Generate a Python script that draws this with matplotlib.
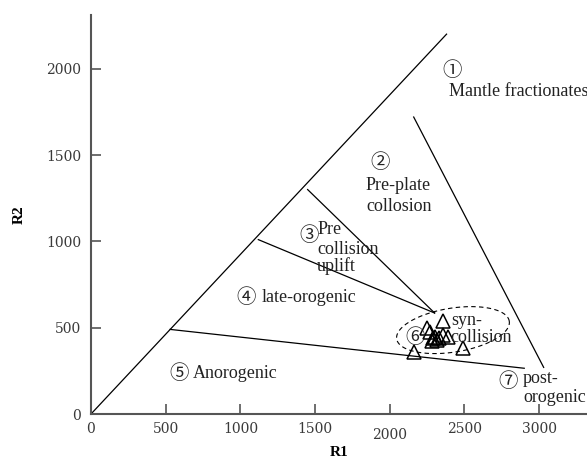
import numpy as np
import matplotlib
matplotlib.use('Agg')
import matplotlib.pyplot as plt

# R1-R2 diagram: boundary lines (R1, R2 endpoints)
diag_line = [(0, 0), (2380, 2200)]
line_anorogenic = [(530, 490), (2900, 265)]
line_mantle = [(2160, 1720), (3030, 270)]
line_preplate = [(1450, 1300), (2300, 585)]
line_lateorog = [(1120, 1010), (2300, 585)]

# samples (triangles)
r1 = [2358, 2247, 2269, 2302, 2314, 2332, 2392, 2492, 2162, 2291, 2358, 2285]
r2 = [540, 500, 477, 448, 428, 438, 444, 380, 361, 438, 457, 420]

# field labels: (number, x, y) and (text, x, y)
circ_labels = [('①', 2414, 1992), ('②', 1934, 1459), ('③', 1459, 1031),
               ('④', 1037, 677), ('⑤', 589, 237), ('⑥', 2169, 446), ('⑦', 2791, 191)]
field_texts = [('Mantle fractionates', 2396, 1869), ('Pre-plate', 1840, 1326),
               ('collosion', 1840, 1199), ('Pre', 1513, 1070), ('collision', 1513, 955),
               ('uplift', 1513, 855), ('late-orogenic', 1140, 677), ('Anorogenic', 680, 237),
               ('syn-', 2410, 544), ('collision', 2405, 446), ('post-', 2892, 208),
               ('orogenic', 2892, 93)]

fig = plt.figure(figsize=(5.87, 4.59), dpi=100)
ax = fig.add_axes([0.155, 0.098, 0.845, 0.869])

for seg in [diag_line, line_anorogenic, line_mantle, line_preplate, line_lateorog]:
    xs, ys = zip(*seg)
    ax.plot(xs, ys, color='black', lw=0.9)

# dashed ellipse around samples (drawn in pixel units, converted to data)
sx, sy = 0.1494, 0.1727
cx, cy = 2423, 486
a, b, th = 57, 22, np.deg2rad(9)
t = np.linspace(0, 2 * np.pi, 200)
px = a * np.cos(t) * np.cos(th) - b * np.sin(t) * np.sin(th)
py = a * np.cos(t) * np.sin(th) + b * np.sin(t) * np.cos(th)
ax.plot(cx + px / sx, cy + py / sy, color='black', lw=0.8, ls=(0, (4, 3)))

ax.plot(r1, r2, linestyle='none', marker='^', markersize=10.5, mfc='none',
        mec='black', mew=1.1)

for s, x, y in circ_labels:
    ax.text(x, y, s, fontsize=14, family=['Noto Sans CJK SC', 'DejaVu Sans'],
            ha='center', va='center', color='#222222')
for s, x, y in field_texts:
    ax.text(x, y, s, fontsize=13, family='Liberation Serif',
            ha='left', va='center', color='#222222')

ax.set_xlim(0, 3320)
ax.set_ylim(0, 2310)
ax.set_xticks([0, 500, 1000, 1500, 2000, 2500, 3000])
ax.set_yticks([0, 500, 1000, 1500, 2000])
for sp in ['top', 'right']:
    ax.spines[sp].set_visible(False)
for sp in ['left', 'bottom']:
    ax.spines[sp].set_color('#555555')
    ax.spines[sp].set_linewidth(1.5)
ax.tick_params(direction='in', length=7, width=1.2, color='#555555',
               labelsize=10, labelcolor='#3a3a3a')
for lab in ax.get_xticklabels() + ax.get_yticklabels():
    lab.set_family('DejaVu Serif')
    lab.set_fontweight('light')
ax.tick_params(axis='x', pad=6)
ax.tick_params(axis='y', pad=7)
ax.xaxis.get_major_ticks()[4].set_pad(10)

ax.set_xlabel('R1', fontsize=11, fontweight='bold', family='Liberation Serif', labelpad=3)
ax.set_ylabel('R2', fontsize=11, fontweight='bold', family='Liberation Serif', labelpad=15)

fig.savefig('out.png', dpi=100)
